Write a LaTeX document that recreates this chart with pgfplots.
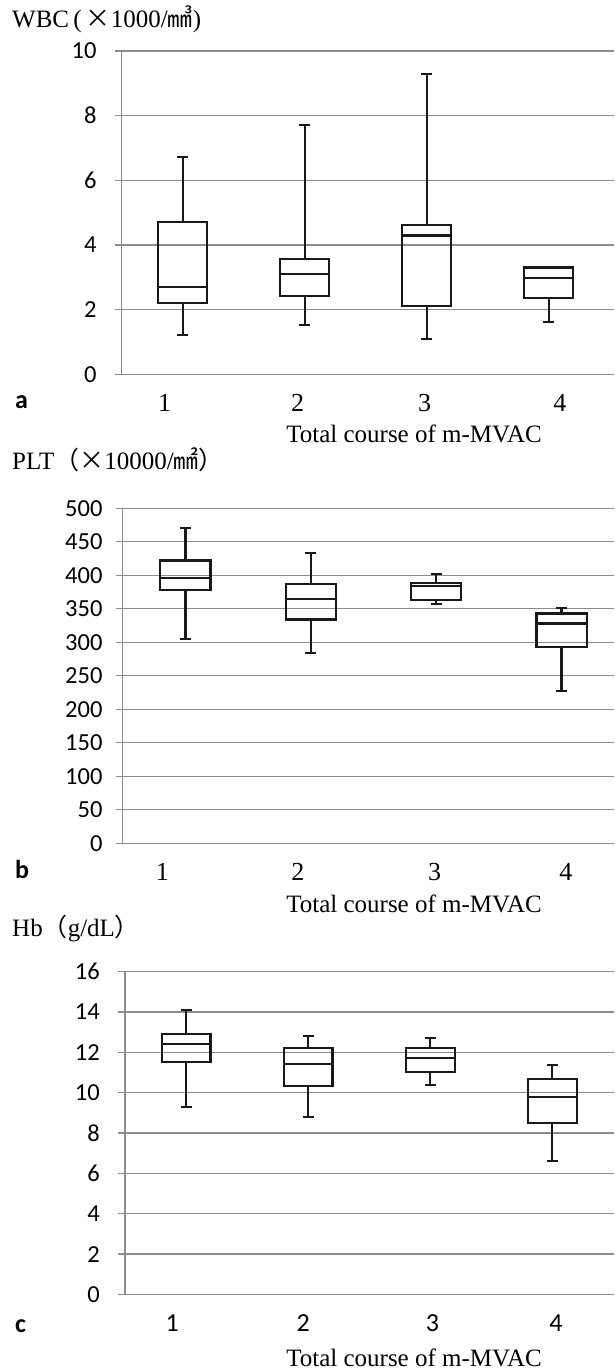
\documentclass[border=0pt]{standalone}
\usepackage{fontspec}
\setmainfont{Liberation Serif}
\newfontfamily\sans{Carlito}
\newfontfamily\cjk{Noto Sans CJK JP}
\usepackage{pgfplots}
\pgfplotsset{compat=1.18}

\definecolor{gridgray}{RGB}{140,140,140}
\definecolor{boxblack}{RGB}{25,25,25}

\newcommand{\serifbig}{\fontsize{25}{30}\selectfont}
\newcommand{\seriftick}{\fontsize{26}{30}\selectfont}
\newcommand{\sanstick}{\sans\fontsize{24.5}{28}\selectfont}

\pgfplotsset{
  panel/.style={
    scale only axis, anchor=south west, clip=false,
    axis x line*=bottom, axis y line*=left,
    axis line style={draw=gridgray, line width=1.4pt, -},
    ymajorgrids, grid style={draw=gridgray, line width=1.4pt},
    tick align=outside, major tick length=7pt,
    ytick style={draw=gridgray, line width=1.4pt},
    xtick style={draw=none},
    xticklabels={1,2,3,4},
    xticklabel style={anchor=base, inner sep=0pt, yshift=-30pt},
    yticklabel style={anchor=east, inner sep=0pt, xshift=-18pt, font=\sanstick},
    /pgf/number format/assume math mode=true,
    xmin=0.5,
  },
  bx/.style={draw=boxblack, line width=2.2pt, solid, mark=none, line join=miter},
}

% one box: position, lower whisker, lower quartile, median, upper quartile, upper whisker
\newcommand{\bx}[6]{%
  \pgfmathsetmacro\xl{#1-0.2}\pgfmathsetmacro\xr{#1+0.2}%
  \pgfmathsetmacro\cl{#1-0.045}\pgfmathsetmacro\cr{#1+0.045}%
  \addplot[bx] coordinates {(\xl,#3) (\xr,#3) (\xr,#5) (\xl,#5)} -- cycle;
  \addplot[bx] coordinates {(\xl,#4) (\xr,#4)};
  \addplot[bx] coordinates {(#1,#5) (#1,#6)};
  \addplot[bx] coordinates {(\cl,#6) (\cr,#6)};
  \addplot[bx] coordinates {(#1,#3) (#1,#2)};
  \addplot[bx] coordinates {(\cl,#2) (\cr,#2)};
}

\begin{document}
\begin{tikzpicture}
\path (0pt,0pt) rectangle (614pt,1370pt);

% titles, panel letters, axis labels
\node[anchor=base west, inner sep=0pt, font=\serifbig] at (12pt,1342pt)
  {WBC\,(\,{\cjk ×}1000/{\cjk ㎣})};
\node[anchor=base west, inner sep=0pt, font=\serifbig] at (12pt,900pt)
  {PLT{\cjk （×}10000/{\cjk ㎟）}};
\node[anchor=base west, inner sep=0pt, font=\serifbig] at (12pt,433pt)
  {Hb{\cjk （}g/dL{\cjk ）}};
\node[anchor=base west, inner sep=0pt, font=\sans\bfseries\fontsize{26}{30}\selectfont] at (15pt,961pt) {a};
\node[anchor=base west, inner sep=0pt, font=\sans\bfseries\fontsize{26}{30}\selectfont] at (15pt,491pt) {b};
\node[anchor=base west, inner sep=0pt, font=\sans\bfseries\fontsize{26}{30}\selectfont] at (15pt,37pt) {c};
\node[anchor=base, inner sep=0pt, font=\serifbig] at (414pt,927pt) {Total course of m-MVAC};
\node[anchor=base, inner sep=0pt, font=\serifbig] at (414pt,457pt) {Total course of m-MVAC};
\node[anchor=base, inner sep=0pt, font=\serifbig] at (414pt,3pt) {Total course of m-MVAC};

% a: WBC
\begin{axis}[panel, at={(121.7pt,995.7pt)}, width=492.3pt, height=323.3pt,
  xmax=4.535, ymin=0, ymax=10, ytick={0,2,...,10},
  xtick={0.851,1.942,2.983,4.091},
  xticklabel style={font=\seriftick}]
\bx{1}{1.22}{2.21}{2.71}{4.70}{6.71}
\bx{2}{1.52}{2.41}{3.10}{3.56}{7.70}
\bx{3}{1.10}{2.12}{4.29}{4.62}{9.30}
\bx{4}{1.61}{2.36}{2.97}{3.30}{3.30}
\end{axis}

% b: PLT
\begin{axis}[panel, at={(122.7pt,526.7pt)}, width=491.3pt, height=335pt,
  xmax=4.418, ymin=0, ymax=500, ytick={0,50,...,500},
  xtick={0.817,1.896,2.988,4.035},
  xticklabel style={font=\seriftick},
  yticklabel style={xshift=5pt}]
\bx{1}{305}{378}{396}{422}{471}
\bx{2}{284}{334}{365}{387}{433}
\bx{3}{357}{363}{384}{389}{402}
\bx{4}{227}{293}{328}{343}{351}
\end{axis}

% c: Hb
\begin{axis}[panel, at={(125pt,75.6pt)}, width=489pt, height=322.7pt,
  xmax=4.505, ymin=0, ymax=16, ytick={0,2,...,16},
  xtick={0.887,1.960,3.019,4.030},
  xticklabel style={font=\sans\fontsize{26}{30}\selectfont}]
\bx{1}{9.31}{11.51}{12.40}{12.90}{14.09}
\bx{2}{8.81}{10.35}{11.44}{12.22}{12.80}
\bx{3}{10.40}{11.01}{11.71}{12.23}{12.70}
\bx{4}{6.60}{8.48}{9.79}{10.67}{11.39}
\end{axis}
\end{tikzpicture}
\end{document}
